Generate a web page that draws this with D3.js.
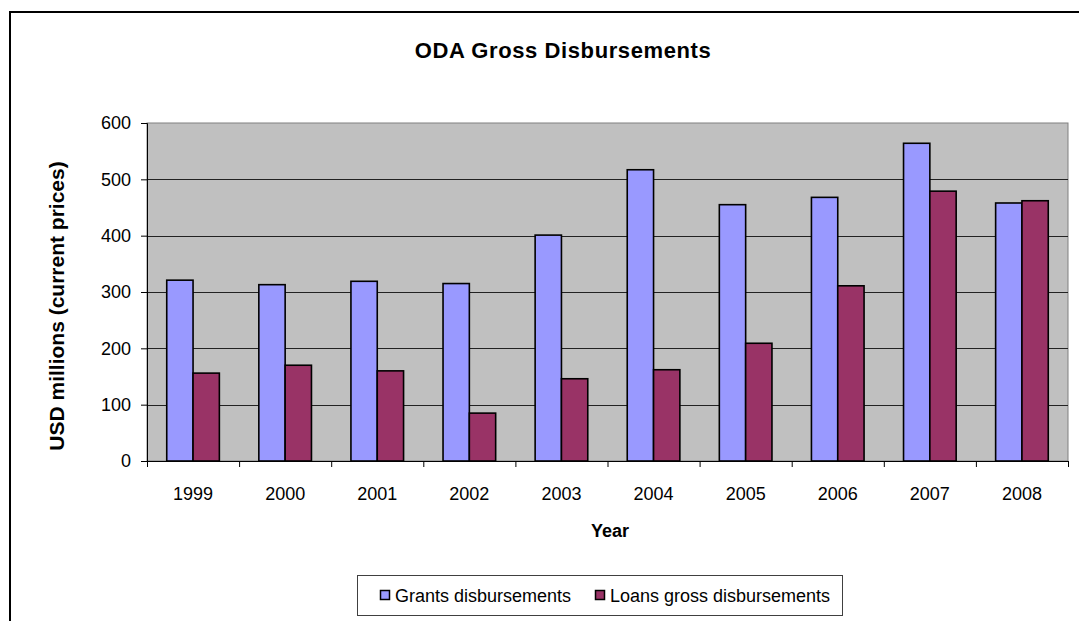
<!DOCTYPE html>
<html>
<head>
<meta charset="utf-8">
<script src="https://cdn.jsdelivr.net/npm/d3@7"></script>
<style>
  body { margin: 0; background: #fff; }
  text { font-family: Arial, "Liberation Sans", sans-serif; fill: #000; }
</style>
</head>
<body>
<div id="chart"></div>
<script>
const years = ['1999', '2000', '2001', '2002', '2003', '2004', '2005', '2006', '2007', '2008']
const grants = [321, 313, 319, 315, 401, 517, 455, 468, 564, 458]
const loans = [156, 170, 160, 85, 146, 162, 209, 311, 479, 462]
const yTicks = [0, 100, 200, 300, 400, 500, 600]
const seriesNames = ['Grants disbursements', 'Loans gross disbursements']
const colors = ['#9999FF', '#993366']

var width = 1079, height = 621
var margin = {top: 123, left: 147}
var plotW = 921, plotH = 338

const svg = d3.select('#chart')
  .append('svg')
  .attr('width', width)
  .attr('height', height)

// outer frame (runs off the right and bottom edge)
svg.append('rect')
  .attr('x', 10).attr('y', 12)
  .attr('width', 1200).attr('height', 800)
  .attr('fill', 'none')
  .attr('stroke', '#000')
  .attr('stroke-width', 2)

svg.append('text')
  .attr('x', 563).attr('y', 58)
  .attr('text-anchor', 'middle')
  .style('font-size', '22px')
  .style('font-weight', 'bold')
  .style('letter-spacing', '0.6px')
  .text('ODA Gross Disbursements')

const g = svg.append('g')
  .attr('transform', 'translate(' + margin.left + ',' + margin.top + ')')

var y = d3.scaleLinear().domain([0, 600]).range([plotH, 0])
var x0 = d3.scaleBand().domain(years).range([0, plotW]).padding(0)
var x1 = d3.scaleBand().domain([0, 1]).range([0, x0.bandwidth()]).paddingInner(0).paddingOuter(0.75)
var xb = d3.scaleLinear().domain([0, years.length]).range([0, plotW])

// plot background
g.append('rect')
  .attr('width', plotW).attr('height', plotH)
  .attr('fill', '#C0C0C0')
  .attr('stroke', '#808080')
  .attr('stroke-width', 1)

// gridlines
g.append('g')
  .selectAll('line')
  .data(yTicks.filter(d => d > 0 && d < 600))
  .enter().append('line')
  .attr('x1', 0).attr('x2', plotW)
  .attr('y1', d => Math.round(y(d)) + 0.5)
  .attr('y2', d => Math.round(y(d)) + 0.5)
  .attr('stroke', '#222')
  .attr('stroke-width', 1)

// bars
const data = years.map((yr, i) => ({year: yr, vals: [grants[i], loans[i]]}))
g.append('g')
  .selectAll('g')
  .data(data)
  .enter().append('g')
  .attr('transform', d => 'translate(' + x0(d.year) + ',0)')
  .selectAll('rect')
  .data(d => d.vals.map((v, k) => ({k: k, v: v})))
  .enter().append('rect')
  .attr('x', d => x1(d.k))
  .attr('y', d => y(d.v))
  .attr('width', x1.bandwidth())
  .attr('height', d => plotH - y(d.v))
  .attr('fill', d => colors[d.k])
  .attr('stroke', '#000')
  .attr('stroke-width', 1.6)

// y axis
g.append('g')
  .call(d3.axisLeft(y).tickValues(yTicks).tickSize(6).tickPadding(10))
  .call(a => a.select('.domain').attr('stroke', '#000'))
  .selectAll('text')
  .style('font-size', '18px')
  .attr('fill', '#000')

// x axis: tick marks between categories
g.append('g')
  .attr('transform', 'translate(0,' + plotH + ')')
  .call(d3.axisBottom(xb).ticks(years.length).tickSize(6).tickFormat(''))
  .call(a => a.select('.domain').attr('stroke', '#000'))

// x labels
g.append('g')
  .attr('transform', 'translate(0,' + plotH + ')')
  .call(d3.axisBottom(x0).tickSize(0).tickPadding(26))
  .call(a => a.select('.domain').remove())
  .selectAll('text')
  .style('font-size', '18px')
  .attr('fill', '#000')

// axis titles
svg.append('text')
  .attr('x', 610).attr('y', 537)
  .attr('text-anchor', 'middle')
  .style('font-size', '18px')
  .style('font-weight', 'bold')
  .text('Year')

svg.append('text')
  .attr('transform', 'translate(64,306) rotate(-90)')
  .attr('text-anchor', 'middle')
  .style('font-size', '21px')
  .style('font-weight', 'bold')
  .text('USD millions (current prices)')

// legend
const legend = svg.append('g')
legend.append('rect')
  .attr('x', 357.5).attr('y', 575.5)
  .attr('width', 485).attr('height', 40)
  .attr('fill', '#fff')
  .attr('stroke', '#404040')
  .attr('stroke-width', 1)

const legX = [380, 595]
seriesNames.forEach((name, i) => {
  legend.append('rect')
    .attr('x', legX[i] + 0.5).attr('y', 590.5)
    .attr('width', 9).attr('height', 9)
    .attr('fill', colors[i])
    .attr('stroke', '#000')
    .attr('stroke-width', 1.5)
  legend.append('text')
    .attr('x', legX[i] + 15).attr('y', 602)
    .style('font-size', '18px')
    .text(name)
})
</script>
</body>
</html>
